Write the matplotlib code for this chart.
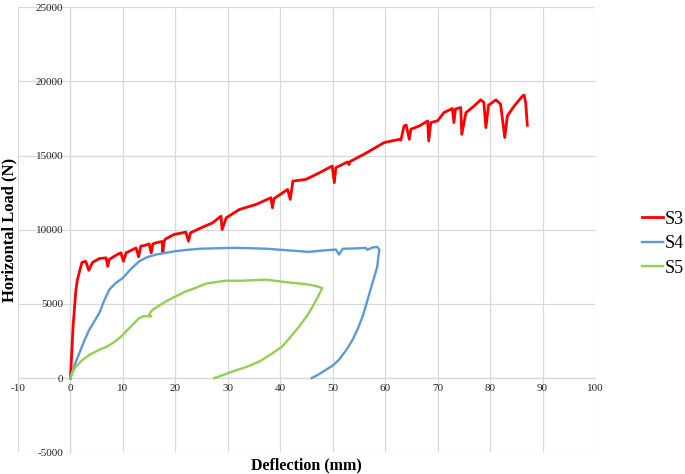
import matplotlib.pyplot as plt

# S3 curve (deflection mm, load N)
s3_x = [0, 0.5, 1.0, 1.3, 1.8, 2.2, 2.9, 3.5, 4.2, 5.5, 6.8, 7.1, 7.4, 8.5, 9.6, 10.1,
        10.6, 11.5, 12.5, 13.0, 13.4, 14.2, 15.0, 15.4, 15.7, 16.6, 17.5, 17.6, 17.9, 18.2, 19.8,
        22.0, 22.5, 22.9, 25.0, 27.0, 28.7, 28.9, 29.7, 32.2, 35.4, 38.2, 38.5, 38.8,
        41.4, 41.9, 42.4, 44.9, 47.5, 49.9, 50.3, 50.6, 52.8, 53.1, 53.3, 56.5, 59.8,
        62.7, 63.0, 63.6, 64.0, 64.6, 64.9, 66.5, 68.1, 68.3, 68.7, 70.0, 71.2, 72.8,
        73.1, 73.4, 74.4, 74.6, 75.4, 76.8, 78.2, 78.8, 79.2, 79.7, 81.1, 82.0, 82.8,
        83.3, 84.6, 86.2, 86.5, 86.8, 87.1]
s3_y = [0, 3500, 5800, 6600, 7300, 7800, 7880, 7270, 7800, 8060, 8110, 7540, 8000, 8250, 8450, 7880,
        8450, 8600, 8780, 8180, 8900, 8950, 9050, 8450, 9050, 9150, 9210, 8500, 9280, 9400, 9690,
        9840, 9230, 9800, 10150, 10450, 10920, 10020, 10810, 11370, 11710, 12160, 11490, 12100,
        12720, 12050, 13280, 13400, 13850, 14300, 13180, 14190, 14570, 14400, 14600, 15200, 15880,
        16100, 16050, 17000, 17060, 16100, 16780, 17000, 17340, 15990, 17230, 17350, 17900, 18180,
        17230, 18150, 18240, 16440, 17900, 18300, 18760, 18600, 16890, 18400, 18760, 18470, 16220,
        17680, 18350, 19030, 19080, 18500, 17050]

s4_x = [0, 0.8, 1.7, 2.6, 3.6, 4.5, 5.5, 6.4, 7.4, 8.6, 10.0, 11.5, 13.1, 14.6, 16.3, 18.2, 20.1,
        22.3, 24.6, 27.5, 30.9, 34.0, 37.5, 40.5, 43.6, 45.5, 48.0, 50.6, 51.2, 51.9, 54.0,
        56.3, 56.6, 57.5, 58.5, 58.9, 58.7, 58.5, 57.9, 57.2, 56.5, 55.7, 54.8, 53.8, 52.6,
        51.2, 50.0, 48.7, 47.3, 46.0]
s4_y = [0, 900, 1690, 2500, 3270, 3800, 4390, 5200, 5970, 6400, 6760, 7350, 7880, 8150, 8330, 8450, 8560,
        8650, 8720, 8750, 8780, 8760, 8720, 8640, 8560, 8510, 8600, 8670, 8330, 8720, 8740,
        8780, 8650, 8800, 8850, 8670, 8200, 7540, 6800, 5970, 5100, 4160, 3350, 2590, 1900,
        1240, 850, 560, 250, 0]

s5_x = [0, 0.4, 1.1, 2.2, 3.6, 5.5, 6.8, 8.1, 9.5, 10.9, 12.0, 13.1, 14.0, 15.4, 15.0, 15.7,
        18.2, 20.0, 22.0, 24.0, 25.8, 27.8, 29.7, 32.0, 34.8, 37.3, 40.0, 42.4, 44.5, 46.2,
        48.0, 47.2, 46.2, 45.0, 43.6, 42.0, 40.4, 38.2, 36.0, 33.5, 30.9, 29.0, 27.4]
s5_y = [0, 450, 790, 1200, 1570, 1910, 2100, 2370, 2750, 3260, 3650, 4050, 4180, 4160, 4300, 4620,
        5180, 5500, 5850, 6100, 6370, 6480, 6570, 6560, 6600, 6640, 6520, 6420, 6350, 6260,
        6080, 5500, 4840, 4150, 3490, 2800, 2140, 1600, 1120, 750, 450, 200, 0]

names = ['S3', 'S4', 'S5']
colores = ['#FF0000', '#5B9BD5', '#92D050']

plt.rcParams['font.family'] = ['Liberation Serif', 'DejaVu Serif']
plt.rcParams['axes.unicode_minus'] = False

fig = plt.figure(figsize=(6.85, 4.74), dpi=100)
ax = fig.add_axes([0.0263, 0.0458, 0.8423, 0.9388])

ax.plot(s3_x, s3_y, color=colores[0], lw=2.0, label=names[0])
ax.plot(s4_x, s4_y, color=colores[1], lw=1.7, label=names[1])
ax.plot(s5_x, s5_y, color=colores[2], lw=1.7, label=names[2])

ax.set_xlim(-10, 100)
ax.set_ylim(-5000, 25000)
ax.set_xticks(range(-10, 101, 10))
ax.set_yticks(range(-5000, 25001, 5000))
ax.grid(True, color='#D9D9D9', lw=0.9)
ax.set_axisbelow(True)

for lado in ['top', 'right']:
    ax.spines[lado].set_visible(False)
ax.spines['left'].set_position(('data', 0))
ax.spines['bottom'].set_position(('data', 0))
ax.spines['left'].set_color('#BFBFBF')
ax.spines['bottom'].set_color('#BFBFBF')
ax.spines['left'].set_zorder(0.5)
ax.spines['bottom'].set_zorder(0.5)
ax.tick_params(length=0, labelsize=8, colors='#262626', pad=4)
ax.tick_params(axis='y', pad=5)

ax.set_xlabel('Deflection (mm)', fontsize=11.5, fontweight='bold')
ax.set_ylabel('Horizontal Load (N)', fontsize=12, fontweight='bold')
ax.xaxis.set_label_coords(0.5, -0.011)
ax.yaxis.set_label_coords(-0.001, 0.5)

fig.legend(loc='center left', bbox_to_anchor=(0.937, 0.486), frameon=False, fontsize=13,
           handlelength=1.17, handletextpad=0.1, labelspacing=0.42, borderaxespad=0, borderpad=0)

fig.savefig('out.png', dpi=100)
